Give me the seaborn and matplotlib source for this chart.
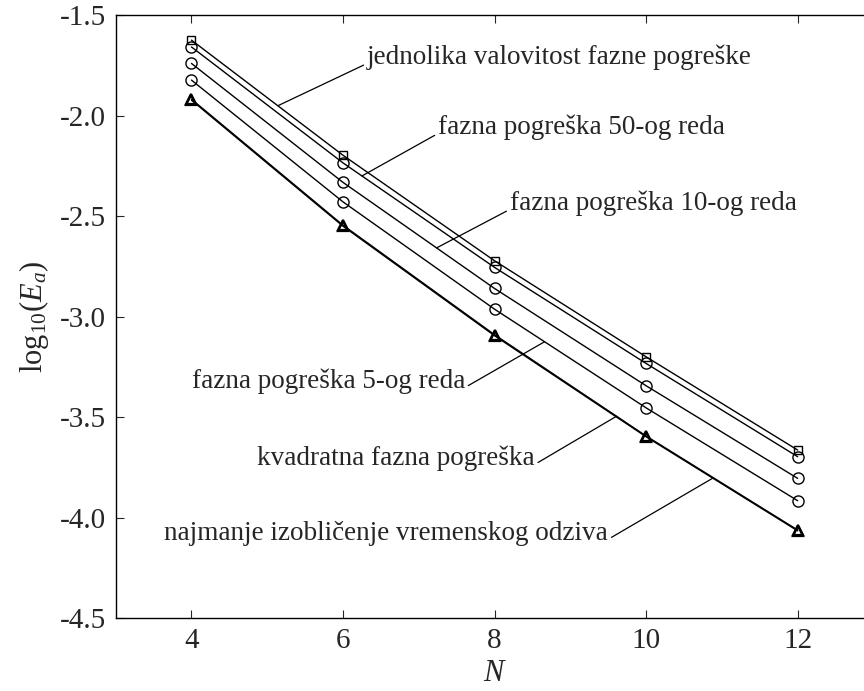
import numpy as np
import matplotlib
matplotlib.use("Agg")
import matplotlib.pyplot as plt
import seaborn as sns

# data
N = [4, 6, 8, 10, 12]
jednolika = [-1.624, -2.197, -2.722, -3.200, -3.664]
red50 = [-1.658, -2.235, -2.755, -3.233, -3.697]
red10 = [-1.740, -2.332, -2.860, -3.344, -3.805]
red5 = [-1.823, -2.429, -2.963, -3.454, -3.916]
kvadratna = [-1.918, -2.545, -3.090, -3.594, -4.062]
najmanje = [-1.923, -2.550, -3.095, -3.598, -4.066]

x_ticks = [4, 6, 8, 10, 12]
y_ticks = [-4.5, -4.0, -3.5, -3.0, -2.5, -2.0, -1.5]

sns.set_style("ticks")
plt.rcParams["font.family"] = ["Liberation Serif", "DejaVu Serif"]
plt.rcParams["mathtext.fontset"] = "custom"
plt.rcParams["mathtext.rm"] = "Liberation Serif"
plt.rcParams["mathtext.it"] = "Liberation Serif:italic"

fig = plt.figure(figsize=(8.64, 6.91), dpi=100)
ax = fig.add_axes([0.1339, 0.1056, 0.877, 0.8724])

series = [
    (jednolika, "s", 6, 1.0),
    (red50, "o", 8, 1.0),
    (red10, "o", 8, 1.0),
    (red5, "o", 8, 1.0),
    (kvadratna, "^", 7, 1.6),
    (najmanje, "^", 7, 1.6),
]
for vals, mk, ms, mew in series:
    sns.lineplot(x=N, y=vals, ax=ax, color="black", linewidth=1.0,
                 marker=mk, markersize=ms, markerfacecolor="none",
                 markeredgecolor="black", markeredgewidth=mew)

ax.set_xlim(3, 13)
ax.set_ylim(-4.5, -1.5)
ax.set_xticks(x_ticks)
ax.set_xticklabels([str(t) for t in x_ticks])
ax.set_yticks(y_ticks)
ax.set_yticklabels([f"{t:.1f}" for t in y_ticks])
ax.tick_params(direction="in", top=True, right=True, length=6, width=0.8,
               labelsize=21, pad=7)
for s in ax.spines.values():
    s.set_linewidth(1.0)
    s.set_color("black")

ax.set_xlabel("$N$", fontsize=22, labelpad=4)
ax.set_ylabel(r"$\mathrm{log}_{10}(E_a)$", fontsize=22, labelpad=6)

# leader-line annotations
notes = [
    ("jednolika valovitost fazne pogreške", jednolika, 5.14, (6.315, -1.709), "left"),
    ("fazna pogreška 50-og reda", red50, 6.25, (7.253, -2.057), "left"),
    ("fazna pogreška 10-og reda", red10, 7.235, (8.20, -2.435), "left"),
    ("fazna pogreška 5-og reda", red5, 8.66, (7.61, -3.321), "right"),
    ("kvadratna fazna pogreška", kvadratna, 9.61, (8.53, -3.704), "right"),
    ("najmanje izobličenje vremenskog odziva", najmanje, 10.88, (9.50, -4.077), "right"),
]
for txt, vals, n_at, pos, ha in notes:
    rel = (0.0, 0.25) if ha == "left" else (1.0, 0.25)
    ax.annotate(txt, xy=(n_at, np.interp(n_at, N, vals)), xytext=pos,
                textcoords="data", ha=ha, va="center", fontsize=19.5,
                arrowprops=dict(arrowstyle="-", color="black", lw=0.9,
                                shrinkA=0, shrinkB=0, relpos=rel))

plt.savefig("out.png", dpi=100)
